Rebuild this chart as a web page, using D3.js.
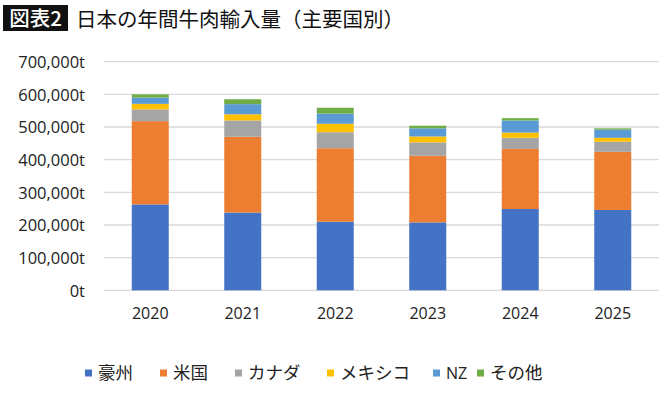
<!DOCTYPE html>
<html><head><meta charset="utf-8">
<script src="https://cdn.jsdelivr.net/npm/d3@7"></script>
<style>body{margin:0;background:#fff;} svg{display:block;}</style>
</head><body>
<svg id="c" width="670" height="394"></svg>
<script>
const years = ["2020","2021","2022","2023","2024","2025"];
const seriesNames = ["豪州","米国","カナダ","メキシコ","NZ","その他"];
const australia = [263000,238000,210000,208000,249000,246000];
const usa       = [255000,232000,225000,204000,184000,178000];
const canada    = [36000,50000,49000,41000,34000,31000];
const mexico    = [17000,19000,26000,18000,16000,12000];
const nz        = [19000,31000,31000,25000,37000,25000];
const others    = [10000,15000,18000,8000,7000,4000];
const yTicks = [0,100000,200000,300000,400000,500000,600000,700000];
const colors = ["#4472C4","#ED7D31","#A5A5A5","#FFC000","#5B9BD5","#70AD47"];

const seriesValues = [australia,usa,canada,mexico,nz,others];
const rows = years.map((y,i)=>{const r={year:y}; seriesNames.forEach((s,k)=>r[s]=seriesValues[k][i]); return r;});
const stacked = d3.stack().keys(seriesNames)(rows);

const svg = d3.select("#c");
const numFont = "'Open Sans', 'Noto Sans', sans-serif";
const jpFont = "'Noto Sans CJK JP', sans-serif";

const x = d3.scaleBand().domain(years).range([104,659]).paddingInner(0.6).paddingOuter(0.3);
const y = d3.scaleLinear().domain([0,700000]).range([290.3,61.7]);

// gridlines
svg.append("g").selectAll("line").data(yTicks).join("line")
  .attr("x1",104).attr("x2",659)
  .attr("y1",d=>y(d)).attr("y2",d=>y(d))
  .attr("stroke","#d9d9d9").attr("stroke-width",1.3);

// y axis labels
const yAxis = d3.axisLeft(y).tickValues(yTicks).tickSize(0).tickPadding(0)
  .tickFormat(d=>d3.format(",")(d)+"t");
const ya = svg.append("g").attr("transform","translate(85,0)").call(yAxis);
ya.select(".domain").remove();
ya.selectAll("text").attr("font-family",numFont).attr("font-size",16.5).attr("fill","#222").attr("dy","0.35em");

// bars
svg.append("g").selectAll("g").data(stacked).join("g")
  .attr("fill",(d,i)=>colors[i])
  .selectAll("rect").data(d=>d).join("rect")
  .attr("x",d=>x(d.data.year))
  .attr("width",x.bandwidth())
  .attr("y",d=>y(d[1]))
  .attr("height",d=>y(d[0])-y(d[1]));

// x axis labels
const xAxis = d3.axisBottom(x).tickSize(0).tickPadding(0);
const xa = svg.append("g").attr("transform","translate(0,308)").call(xAxis);
xa.select(".domain").remove();
xa.selectAll("text").attr("font-family",numFont).attr("font-size",16).attr("fill","#222");

// title
svg.append("rect").attr("x",3).attr("y",5).attr("width",65).attr("height",26).attr("fill","#111");
svg.append("text").attr("x",35.5).attr("y",26).attr("text-anchor","middle")
  .attr("font-family",jpFont).attr("font-size",20.5).attr("font-weight",500).attr("fill","#fff").text("図表2");
svg.append("text").attr("x",76).attr("y",26.5)
  .attr("font-family",jpFont).attr("font-size",20.5).attr("font-weight",400).attr("fill","#111")
  .text("日本の年間牛肉輸入量（主要国別）");

// legend
const legendX = [85,160,235,327,433,477];
const lg = svg.append("g").selectAll("g").data(seriesNames).join("g")
  .attr("transform",(d,i)=>`translate(${legendX[i]},373)`);
lg.append("rect").attr("x",0).attr("y",-3.5).attr("width",7).attr("height",7).attr("fill",(d,i)=>colors[i]);
lg.append("text").attr("x",13).attr("y",0).attr("dy","0.36em")
  .attr("font-family",(d)=>d==="NZ"?numFont:jpFont).attr("font-size",(d)=>d==="NZ"?16:17.5).attr("fill","#222").text(d=>d);
</script>
</body></html>
